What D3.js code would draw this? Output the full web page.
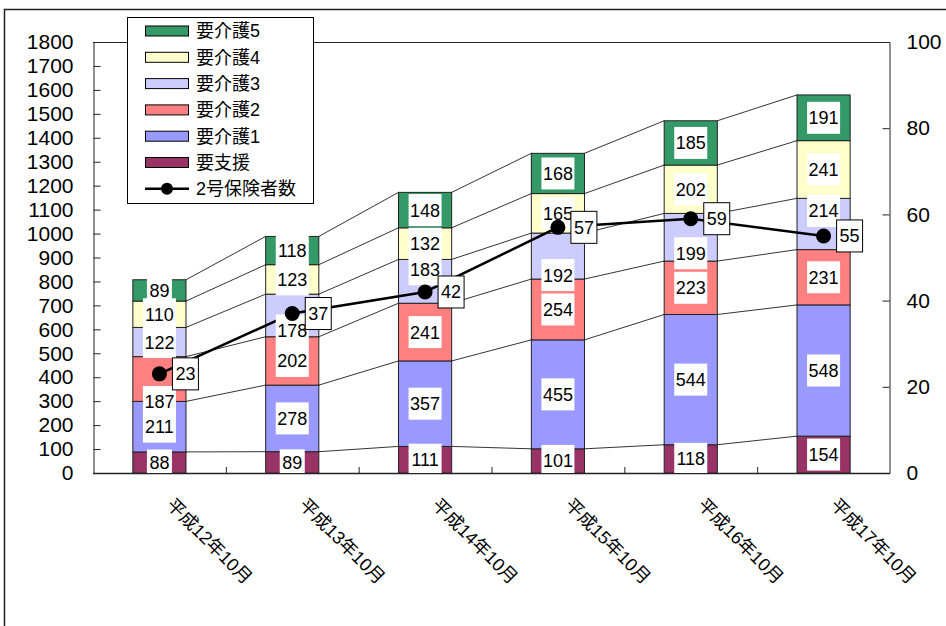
<!DOCTYPE html>
<html>
<head>
<meta charset="utf-8">
<script src="https://cdn.jsdelivr.net/npm/d3@7"></script>
<style>
  html, body { margin: 0; padding: 0; background: #fff; }
  svg { display: block; }
  text { font-family: "Liberation Sans", Arial, "Noto Sans CJK JP", sans-serif; fill: #000; }
</style>
</head>
<body>
<svg id="chart" width="946" height="626"></svg>
<script>
// Survey points (October of each year)
const categories = ["平成12年10月", "平成13年10月", "平成14年10月", "平成15年10月", "平成16年10月", "平成17年10月"];

// Stacked series, bottom to top
const seriesNames = ["要支援", "要介護1", "要介護2", "要介護3", "要介護4", "要介護5"];
const youshien = [88, 89, 111, 101, 118, 154];
const kaigo1   = [211, 278, 357, 455, 544, 548];
const kaigo2   = [187, 202, 241, 254, 223, 231];
const kaigo3   = [122, 178, 183, 192, 199, 214];
const kaigo4   = [110, 123, 132, 165, 202, 241];
const kaigo5   = [89, 118, 148, 168, 185, 191];

// Line series on the right axis
const lineName = "2号保険者数";
const insured2 = [23, 37, 42, 57, 59, 55];

// Axis ticks
const leftTicks  = [0, 100, 200, 300, 400, 500, 600, 700, 800, 900, 1000, 1100, 1200, 1300, 1400, 1500, 1600, 1700, 1800];
const rightTicks = [0, 20, 40, 60, 80, 100];

const colors = {
  "要支援": "#993366",
  "要介護1": "#9999FF",
  "要介護2": "#FF8080",
  "要介護3": "#CCCCFF",
  "要介護4": "#FFFFCC",
  "要介護5": "#339966"
};

// Hand-placed label shifts (px, downward) so labels clear the line markers
const labelNudge = {
  "要介護2": [23, 0, 0, 0, 0, 0],
  "要介護3": [0, 15, -12, 19, 16, -13]
};

const seriesValues = [youshien, kaigo1, kaigo2, kaigo3, kaigo4, kaigo5];
const rows = categories.map((c, i) => {
  const r = { cat: c };
  seriesNames.forEach((s, k) => { r[s] = seriesValues[k][i]; });
  return r;
});

const plot = { left: 93, right: 890, top: 42, bottom: 473 };
const svg = d3.select("#chart");

// Outer frame
svg.append("rect")
  .attr("x", 4.5).attr("y", 9.5).attr("width", 1000).attr("height", 700)
  .attr("fill", "none").attr("stroke", "#222").attr("stroke-width", 1.5);

const x = d3.scaleBand().domain(categories)
  .range([plot.left, plot.right]).paddingInner(0.6).paddingOuter(0.3);
const yL = d3.scaleLinear().domain([0, 1800]).range([plot.bottom, plot.top]);
const yR = d3.scaleLinear().domain([0, 100]).range([plot.bottom, plot.top]);

const stack = d3.stack().keys(seriesNames)(rows);

// Plot area border (top edge)
svg.append("line")
  .attr("x1", plot.left).attr("x2", plot.right)
  .attr("y1", plot.top + 0.5).attr("y2", plot.top + 0.5)
  .attr("stroke", "#222");

// Left axis
const axL = d3.axisLeft(yL).tickValues(leftTicks).tickFormat(d3.format("d"))
  .tickSizeInner(-7).tickSizeOuter(0).tickPadding(20);
const gL = svg.append("g").attr("transform", `translate(${plot.left + 0.5},0)`).call(axL);
gL.selectAll("text").attr("font-size", 21).style("font-family", "'Liberation Sans', Arial, sans-serif");

// Right axis
const axR = d3.axisRight(yR).tickValues(rightTicks).tickFormat(d3.format("d"))
  .tickSizeInner(-7).tickSizeOuter(0).tickPadding(17);
const gR = svg.append("g").attr("transform", `translate(${plot.right - 0.5},0)`).call(axR);
gR.selectAll("text").attr("font-size", 21).style("font-family", "'Liberation Sans', Arial, sans-serif");

[gL, gR].forEach(g => {
  g.select(".domain").attr("stroke", "#222");
  g.selectAll(".tick line").attr("stroke", "#222");
});

// Bottom axis line with category separators
svg.append("line")
  .attr("x1", plot.left).attr("x2", plot.right)
  .attr("y1", plot.bottom + 0.5).attr("y2", plot.bottom + 0.5)
  .attr("stroke", "#222").attr("stroke-width", 1.5);
const step = x.step();
svg.append("g").selectAll("line")
  .data(categories.slice(1))
  .join("line")
  .attr("x1", (d, i) => plot.left + step * (i + 1) + 0.5)
  .attr("x2", (d, i) => plot.left + step * (i + 1) + 0.5)
  .attr("y1", plot.bottom).attr("y2", plot.bottom - 6)
  .attr("stroke", "#222");

// Stacked bars
const bw = x.bandwidth();
svg.append("g").selectAll("g")
  .data(stack)
  .join("g")
  .attr("fill", d => colors[d.key])
  .selectAll("rect")
  .data(d => d)
  .join("rect")
  .attr("x", d => x(d.data.cat))
  .attr("y", d => yL(d[1]))
  .attr("width", bw)
  .attr("height", d => yL(d[0]) - yL(d[1]))
  .attr("stroke", "#222").attr("stroke-width", 1);

// Series lines joining segment tops between neighbouring bars
const conn = svg.append("g").attr("stroke", "#000").attr("stroke-width", 0.8);
stack.forEach(layer => {
  for (let i = 0; i < layer.length - 1; i++) {
    conn.append("line")
      .attr("x1", x(categories[i]) + bw).attr("y1", yL(layer[i][1]))
      .attr("x2", x(categories[i + 1])).attr("y2", yL(layer[i + 1][1]));
  }
});

// Line series path
const cx = i => x(categories[i]) + bw / 2;
svg.append("path")
  .datum(insured2)
  .attr("d", d3.line().x((d, i) => cx(i)).y(d => yR(d)))
  .attr("fill", "none").attr("stroke", "#000").attr("stroke-width", 2.5);

// Bar value labels (white boxes, clipped to plot area)
svg.append("clipPath").attr("id", "plotClip")
  .append("rect").attr("x", plot.left).attr("y", plot.top)
  .attr("width", plot.right - plot.left).attr("height", plot.bottom - plot.top);
const lblG = svg.append("g").attr("clip-path", "url(#plotClip)");
stack.forEach(layer => {
  layer.forEach((d, i) => {
    const val = d[1] - d[0];
    const nudge = labelNudge[layer.key] ? labelNudge[layer.key][i] : 0;
    const yc = (yL(d[0]) + yL(d[1])) / 2 + nudge;
    const w = String(val).length === 3 ? 33 : 25;
    const h = String(val).length === 3 ? 32 : 26;
    lblG.append("rect")
      .attr("x", cx(i) - w / 2).attr("y", yc - h / 2)
      .attr("width", w).attr("height", h).attr("fill", "#fff");
    lblG.append("text")
      .attr("x", cx(i)).attr("y", yc)
      .attr("text-anchor", "middle").attr("dy", "0.36em")
      .attr("font-size", 18)
      .text(val);
  });
});

// Line markers
svg.append("g").selectAll("circle")
  .data(insured2)
  .join("circle")
  .attr("cx", (d, i) => cx(i)).attr("cy", d => yR(d))
  .attr("r", 7.5).attr("fill", "#000");

// Line value labels (bordered boxes)
const ll = svg.append("g").selectAll("g")
  .data(insured2)
  .join("g")
  .attr("transform", (d, i) => `translate(${cx(i) + 26},${yR(d)})`);
ll.append("rect")
  .attr("x", -13).attr("y", -16).attr("width", 26).attr("height", 32)
  .attr("fill", "#fff").attr("stroke", "#000").attr("stroke-width", 1);
ll.append("text")
  .attr("text-anchor", "middle").attr("dy", "0.36em")
  .attr("font-size", 18)
  .text(d => d);

// Category labels, rotated 45°
svg.append("g").selectAll("text")
  .data(categories)
  .join("text")
  .attr("transform", d => `translate(${x(d) + bw / 2 + 6},506) rotate(45)`)
  .attr("text-anchor", "start")
  .attr("font-size", 18)
  .text(d => d);

// Legend
const legendItems = seriesNames.slice().reverse();
const lg = svg.append("g");
lg.append("rect")
  .attr("x", 127.5).attr("y", 17.5).attr("width", 186).attr("height", 186)
  .attr("fill", "#fff").attr("stroke", "#000").attr("stroke-width", 1);
const rowY = i => 31 + i * 26.3;
legendItems.forEach((name, i) => {
  lg.append("rect")
    .attr("x", 145.5).attr("y", rowY(i) - 5).attr("width", 43).attr("height", 10)
    .attr("fill", colors[name]).attr("stroke", "#000").attr("stroke-width", 1);
  lg.append("text")
    .attr("x", 196).attr("y", rowY(i)).attr("dy", "0.36em")
    .attr("font-size", 18)
    .text(name);
});
const ly = rowY(legendItems.length);
lg.append("line")
  .attr("x1", 145).attr("x2", 189).attr("y1", ly).attr("y2", ly)
  .attr("stroke", "#000").attr("stroke-width", 2.5);
lg.append("circle").attr("cx", 167).attr("cy", ly).attr("r", 6).attr("fill", "#000");
lg.append("text")
  .attr("x", 196).attr("y", ly).attr("dy", "0.36em")
  .attr("font-size", 18)
  .text(lineName);
</script>
</body>
</html>
